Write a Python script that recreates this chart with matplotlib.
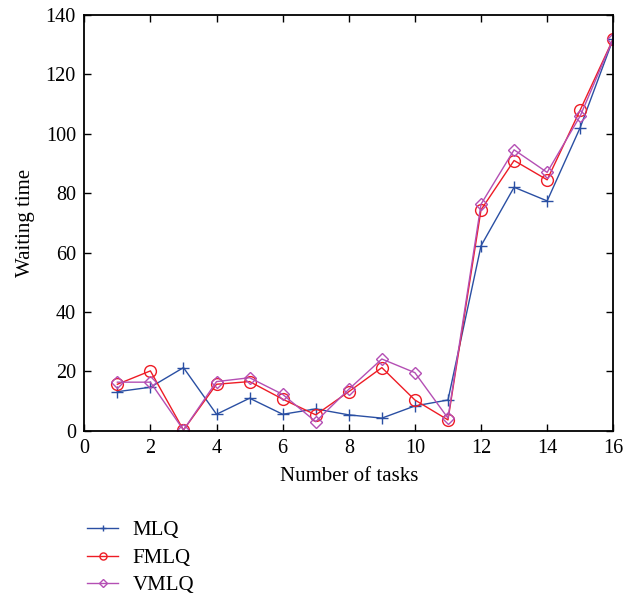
import matplotlib
matplotlib.use("Agg")
import matplotlib.pyplot as plt

tasks = list(range(1, 17))
mlq = [13.2, 14.7, 21.3, 5.6, 11.0, 5.6, 7.4, 5.4, 4.3, 8.4, 10.4, 62.3, 82.0, 77.4, 102.1, 132.0]
fmlq = [15.7, 20.2, 0.3, 15.7, 16.6, 10.7, 5.4, 13.2, 21.3, 10.4, 3.7, 74.4, 91.0, 84.5, 108.0, 132.0]
vmlq = [16.4, 16.4, 0.3, 16.6, 17.9, 12.3, 3.1, 14.0, 24.2, 19.6, 4.3, 76.3, 94.6, 87.0, 106.0, 132.0]
series_names = ["MLQ", "FMLQ", "VMLQ"]
xticks = [0, 2, 4, 6, 8, 10, 12, 14, 16]
yticks = [0, 20, 40, 60, 80, 100, 120, 140]

plt.rcParams['font.family'] = ['Liberation Serif', 'DejaVu Serif']

fig = plt.figure(figsize=(6.29, 5.96), dpi=100)
ax = fig.add_axes([0.134, 0.277, 0.841, 0.698])

l1, = ax.plot(tasks, mlq, color='#2a4fa3', lw=1.0, marker='+', ms=8, mew=1.0, label=series_names[0])
l2, = ax.plot(tasks, fmlq, color='#ee1c25', lw=1.0, marker='o', ms=8.5, mfc='none', mew=1.0, label=series_names[1])
l3, = ax.plot(tasks, vmlq, color='#b44fb4', lw=1.0, marker='D', ms=6.5, mfc='none', mew=1.0, label=series_names[2])

ax.set_xlim(0, 16)
ax.set_ylim(0, 140)
ax.set_xticks(xticks)
ax.set_yticks(yticks)
ax.tick_params(direction='in', top=True, right=True, length=5, width=1, labelsize=14.5, pad=6)
for s in ax.spines.values():
    s.set_linewidth(1.3)
ax.set_xlabel("Number of tasks", fontsize=15, labelpad=6)
ax.set_ylabel("Waiting time", fontsize=15, labelpad=8)

leg = fig.legend(handles=[l1, l2, l3], loc='upper left', bbox_to_anchor=(0.125, 0.14),
                 frameon=False, fontsize=15, handlelength=1.5, markerscale=0.6,
                 labelspacing=0.38, handletextpad=0.7, borderaxespad=0)

fig.savefig("out.png", dpi=100)
